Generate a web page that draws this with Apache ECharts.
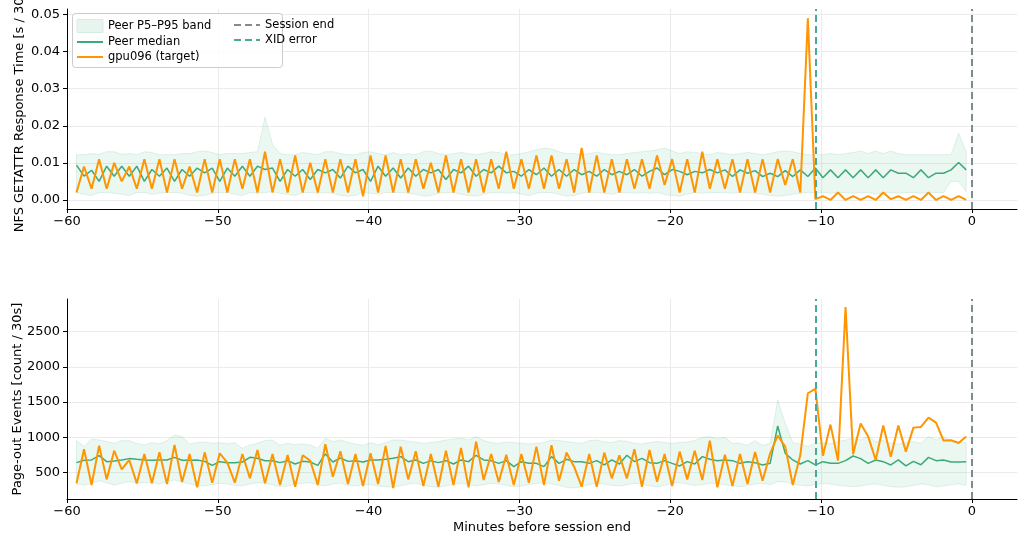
<!DOCTYPE html>
<html>
<head>
<meta charset="utf-8">
<script src="https://cdn.jsdelivr.net/npm/echarts@6.0.0/dist/echarts.min.js"></script>
<style>
html, body { margin: 0; padding: 0; background: #fff; }
#chart { width: 1028px; height: 545px; }
</style>
</head>
<body>
<div id="chart"></div>
<script>
// 30 s bins, first bin centre 59.37 min before session end
const binStart = -59.37
const binStep = 0.5
const xidMinute = -10.37
const sessionEndMinute = 0
const xTicks = [-60, -50, -40, -30, -20, -10, 0]
const nfsTicks = [0, 0.01, 0.02, 0.03, 0.04, 0.05]
const pageTicks = [500, 1000, 1500, 2000, 2500]

// NFS GETATTR response time [s / 30s]
const nfsTarget = [
  .002, .009, .003, .011, .003, .010, .005, .009, .003, .011, .003, .011, .002, .011, .003, .009, .002, .011, .002, .011,
  .002, .011, .003, .011, .002, .013, .002, .011, .002, .012, .002, .010, .002, .011, .002, .011, .002, .011, .001, .012,
  .002, .012, .002, .011, .002, .011, .003, .010, .002, .012, .002, .011, .002, .011, .002, .011, .003, .013, .003, .011,
  .003, .012, .003, .012, .003, .011, .002, .014, .002, .012, .002, .011, .002, .011, .003, .011, .003, .012, .004, .011,
  .002, .011, .002, .013, .003, .011, .003, .011, .002, .011, .002, .011, .002, .011, .004, .011, .002, .049, .0002, .001,
  0, .002, 0, .001, 0, .001, 0, .002, .0002, .001, 0, .001, 0, .002, 0, .001, 0, .001, 0
]
const nfsMedian = [
  .0094, .0064, .0080, .0050, .0091, .0064, .0091, .0064, .0091, .0050, .0082, .0064, .0086, .0050, .0082, .0064, .0086, .0073, .0086, .0050,
  .0086, .0064, .0091, .0064, .0091, .0082, .0086, .0050, .0082, .0064, .0082, .0055, .0082, .0073, .0082, .0059, .0091, .0073, .0082, .0050,
  .0091, .0064, .0086, .0059, .0086, .0064, .0082, .0073, .0082, .0055, .0082, .0073, .0091, .0064, .0082, .0073, .0091, .0073, .0077, .0064,
  .0082, .0068, .0086, .0064, .0082, .0064, .0082, .0068, .0077, .0064, .0082, .0068, .0077, .0068, .0082, .0064, .0077, .0086, .0068, .0082,
  .0077, .0068, .0077, .0073, .0082, .0073, .0081, .0063, .0081, .0072, .0079, .0063, .0072, .0063, .0079, .0063, .0081, .0063, .0086, .0060,
  .0081, .0060, .0081, .0060, .0081, .0060, .0081, .0060, .0081, .0072, .0072, .0060, .0081, .0060, .0072, .0072, .0081, .0101, .0081
]
const nfsP95 = [
  .0122, .0122, .0125, .0123, .0130, .0130, .0123, .0125, .0122, .0130, .0128, .0122, .0122, .0122, .0125, .0125, .0130, .0132, .0128, .0122,
  .0125, .0125, .0125, .0128, .0130, .0223, .0150, .0125, .0122, .0122, .0128, .0125, .0122, .0130, .0130, .0125, .0122, .0122, .0128, .0130,
  .0125, .0122, .0128, .0122, .0125, .0122, .0130, .0132, .0125, .0122, .0125, .0128, .0125, .0122, .0125, .0130, .0128, .0122, .0122, .0125,
  .0130, .0135, .0140, .0138, .0130, .0125, .0125, .0122, .0125, .0128, .0125, .0122, .0122, .0125, .0128, .0130, .0132, .0135, .0140, .0132,
  .0125, .0130, .0128, .0125, .0122, .0128, .0125, .0122, .0125, .0128, .0125, .0122, .0125, .0130, .0132, .0130, .0125, .0122, .0122, .0122,
  .0125, .0122, .0125, .0128, .0132, .0125, .0132, .0125, .0132, .0125, .0122, .0122, .0122, .0122, .0122, .0122, .0122, .0180, .0130
]
const nfsP5 = [
  .0020, .0015, .0012, .0020, .0020, .0018, .0015, .0012, .0020, .0020, .0015, .0018, .0020, .0020, .0018, .0012, .0010, .0012, .0018, .0020,
  .0020, .0015, .0012, .0020, .0018, .0020, .0022, .0018, .0015, .0012, .0020, .0020, .0018, .0020, .0018, .0012, .0010, .0012, .0020, .0018,
  .0015, .0020, .0020, .0020, .0018, .0015, .0010, .0012, .0018, .0020, .0020, .0015, .0012, .0010, .0015, .0020, .0020, .0018, .0020, .0015,
  .0012, .0018, .0020, .0020, .0015, .0010, .0012, .0018, .0020, .0020, .0018, .0015, .0020, .0020, .0018, .0020, .0018, .0020, .0015, .0012,
  .0010, .0015, .0020, .0018, .0020, .0020, .0020, .0018, .0020, .0020, .0018, .0015, .0012, .0010, .0012, .0015, .0018, .0020, .0020, .0020,
  .0018, .0020, .0020, .0018, .0020, .0020, .0015, .0020, .0020, .0018, .0020, .0020, .0018, .0020, .0020, .0020, .0050, .0050, .0022
]

// Page-out events [count / 30s]
const pageTarget = [
  349, 831, 325, 883, 405, 812, 547, 680, 349, 765, 349, 788, 339, 892, 368, 765, 292, 788, 358, 774,
  642, 358, 765, 420, 822, 349, 765, 325, 750, 301, 746, 670, 325, 902, 443, 803, 339, 765, 311, 774,
  339, 878, 283, 869, 405, 803, 311, 765, 301, 812, 325, 850, 292, 940, 396, 765, 368, 755, 325, 765,
  358, 869, 325, 888, 386, 784, 585, 301, 765, 301, 784, 420, 746, 420, 831, 301, 822, 372, 765, 311,
  798, 405, 812, 396, 954, 292, 755, 311, 765, 339, 793, 386, 774, 1025, 869, 325, 750, 1625, 1687, 741,
  1181, 670, 2845, 760, 1195, 1011, 680, 1167, 727, 1167, 798, 1138, 1148, 1280, 1209, 954, 959, 921, 1011
]
const pageMedian = [
  642, 675, 680, 741, 656, 665, 680, 699, 689, 680, 675, 680, 680, 717, 675, 675, 680, 660, 604, 656,
  642, 642, 651, 717, 703, 670, 670, 642, 670, 623, 660, 651, 604, 765, 651, 708, 660, 670, 651, 680,
  680, 689, 703, 727, 656, 680, 632, 670, 642, 670, 623, 680, 656, 746, 680, 670, 632, 670, 585, 656,
  632, 632, 585, 727, 632, 689, 656, 656, 632, 670, 609, 680, 623, 746, 656, 703, 642, 632, 670, 632,
  595, 656, 623, 727, 689, 670, 680, 670, 632, 656, 642, 609, 632, 1162, 774, 680, 623, 670, 609, 656,
  632, 632, 670, 736, 699, 632, 680, 656, 609, 680, 595, 660, 613, 717, 670, 680, 651, 651, 656
]
const pageP95 = [
  954, 869, 977, 963, 940, 916, 954, 954, 916, 892, 926, 906, 954, 1034, 1011, 906, 926, 935, 916, 926,
  906, 926, 845, 892, 916, 954, 963, 887, 916, 897, 906, 892, 845, 987, 940, 963, 926, 906, 887, 926,
  892, 926, 963, 963, 945, 935, 916, 926, 940, 963, 977, 987, 963, 1011, 954, 926, 916, 935, 926, 916,
  906, 916, 926, 963, 954, 940, 926, 916, 954, 963, 935, 926, 954, 945, 916, 906, 926, 940, 926, 916,
  926, 935, 954, 1001, 1011, 977, 1001, 916, 916, 887, 954, 887, 916, 1531, 1200, 926, 906, 869, 916, 926,
  906, 940, 963, 987, 963, 1011, 940, 954, 916, 906, 926, 940, 916, 1011, 963, 1011, 940, 940, 926
]
const pageP5 = [
  339, 325, 349, 386, 358, 325, 349, 372, 349, 358, 358, 339, 377, 396, 368, 339, 320, 311, 330, 349,
  339, 320, 311, 339, 358, 349, 330, 301, 311, 339, 349, 358, 330, 311, 339, 349, 320, 311, 330, 330,
  311, 301, 292, 311, 339, 349, 320, 301, 292, 311, 330, 349, 330, 311, 330, 349, 339, 320, 301, 311,
  330, 349, 358, 339, 320, 292, 283, 301, 330, 349, 339, 320, 311, 330, 349, 339, 311, 301, 320, 349,
  358, 339, 320, 330, 349, 339, 330, 311, 301, 320, 339, 349, 330, 372, 368, 339, 320, 311, 330, 349,
  339, 320, 311, 301, 311, 330, 339, 320, 301, 292, 301, 320, 339, 330, 301, 311, 330, 339, 320
]

const FONT = 'DejaVu Sans'
const targetColor = '#ff9500'
const medianColor = '#3caa78'
const bandFill = 'rgba(60,179,113,0.10)'
const bandEdge = 'rgba(60,179,113,0.14)'
const endColor = '#7f8c8d'
const xidColor = '#48a999'
const dash = [7, 4]

const minutes = nfsTarget.map((v, i) => binStart + i * binStep)
const pts = ys => ys.map((v, i) => [minutes[i], v])
const minus = v => (v < 0 ? '\u2212' + Math.abs(v) : String(v))

function xAxisOpt(gridIndex, withName) {
  return {
    type: 'value', gridIndex, min: -60, max: 3,
    name: withName ? 'Minutes before session end' : '',
    nameLocation: 'middle', nameGap: 22, nameMoveOverlap: false,
    nameTextStyle: { fontFamily: FONT, fontSize: 13, color: '#000' },
    axisLine: { show: true, onZero: false, lineStyle: { color: '#000', width: 1 } },
    axisTick: { show: true, length: 4, customValues: xTicks, lineStyle: { color: '#000' } },
    axisLabel: { customValues: xTicks, formatter: minus, margin: 6, fontFamily: FONT, fontSize: 13, color: '#000' },
    splitLine: { show: true, lineStyle: { color: '#ebebeb', width: 1 } }
  }
}

function yAxisOpt(gridIndex, min, max, ticks, fmt) {
  return {
    type: 'value', gridIndex, min, max,
    axisLine: { show: true, onZero: false, lineStyle: { color: '#000', width: 1 } },
    axisTick: { show: true, length: 4, customValues: ticks, lineStyle: { color: '#000' } },
    axisLabel: { customValues: ticks, formatter: fmt, margin: 7, fontFamily: FONT, fontSize: 13, color: '#000' },
    splitLine: { show: true, lineStyle: { color: '#ebebeb', width: 1 } }
  }
}

// y titles as free text so the long top one can run off the canvas like the original
function yTitle(text, x, y) {
  return {
    type: 'text', x, y, rotation: Math.PI / 2, z: 10,
    style: { text, fontFamily: FONT, fontSize: 13, fill: '#000', align: 'center', verticalAlign: 'middle' }
  }
}

function panelSeries(idx, p5, p95, median, target) {
  const base = { xAxisIndex: idx, yAxisIndex: idx, animation: false }
  const vline = (name, color, x) => Object.assign({}, base, {
    type: 'line', name, data: [], symbol: 'none',
    lineStyle: { color, width: 2, type: dash }, itemStyle: { color },
    markLine: {
      silent: true, symbol: 'none', label: { show: false }, animation: false,
      lineStyle: { color, width: 2, type: dash },
      data: [{ xAxis: x }]
    }, z: 5
  })
  return [
    Object.assign({}, base, {
      type: 'custom', name: 'Peer P5\u2013P95 band', silent: true, z: 1,
      itemStyle: { color: bandFill },
      data: [[minutes[0], p95[0]]],
      renderItem: (params, api) => {
        const upper = p95.map((v, i) => api.coord([minutes[i], v]))
        const lower = p5.map((v, i) => api.coord([minutes[i], v])).reverse()
        return {
          type: 'polygon',
          shape: { points: upper.concat(lower) },
          style: { fill: bandFill, stroke: bandEdge, lineWidth: 1 }
        }
      }
    }),
    Object.assign({}, base, {
      type: 'line', name: 'Peer median', data: pts(median), symbol: 'none',
      lineStyle: { color: medianColor, width: 1.5 }, itemStyle: { color: medianColor }, z: 2
    }),
    Object.assign({}, base, {
      type: 'line', name: 'gpu096 (target)', data: pts(target), symbol: 'none',
      lineStyle: { color: targetColor, width: 2 }, itemStyle: { color: targetColor }, z: 3
    }),
    vline('Session end', endColor, sessionEndMinute),
    vline('XID error', xidColor, xidMinute)
  ]
}

const legendBase = {
  orient: 'vertical', top: 19, itemWidth: 26, itemHeight: 13, itemGap: 3,
  padding: 0, selectedMode: false,
  textStyle: { fontFamily: FONT, fontSize: 11.5, color: '#000' }
}
const lineItem = name => ({ name, itemStyle: { opacity: 0 } })

const chart = echarts.init(document.getElementById('chart'), null, { renderer: 'canvas' })
chart.setOption({
  backgroundColor: '#fff',
  animation: false,
  textStyle: { fontFamily: FONT },
  grid: [
    { left: 67, right: 11, top: 9, height: 200 },
    { left: 67, right: 11, top: 299, height: 200 }
  ],
  xAxis: [xAxisOpt(0, false), xAxisOpt(1, true)],
  yAxis: [
    yAxisOpt(0, -0.00245, 0.0515, nfsTicks, v => v.toFixed(2)),
    yAxisOpt(1, 127, 2960, pageTicks, v => String(v))
  ],
  graphic: [
    {
      type: 'rect', left: 72, top: 13, z: 3,
      shape: { width: 210, height: 54, r: 3 },
      style: { fill: 'rgba(255,255,255,0.85)', stroke: '#cccccc', lineWidth: 1 }
    },
    yTitle('NFS GETATTR Response Time [s / 30s]', 20, 109),
    yTitle('Page-out Events [count / 30s]', 18, 399)
  ],
  legend: [
    Object.assign({}, legendBase, {
      left: 76,
      data: [
        { name: 'Peer P5\u2013P95 band', icon: 'rect', itemStyle: { color: '#e8f5ee', borderColor: '#d6ede1', borderWidth: 1 } },
        lineItem('Peer median'),
        lineItem('gpu096 (target)')
      ]
    }),
    Object.assign({}, legendBase, {
      left: 233,
      data: [lineItem('Session end'), lineItem('XID error')]
    })
  ],
  series: [
    ...panelSeries(0, nfsP5, nfsP95, nfsMedian, nfsTarget),
    ...panelSeries(1, pageP5, pageP95, pageMedian, pageTarget)
  ]
})
</script>
</body>
</html>
